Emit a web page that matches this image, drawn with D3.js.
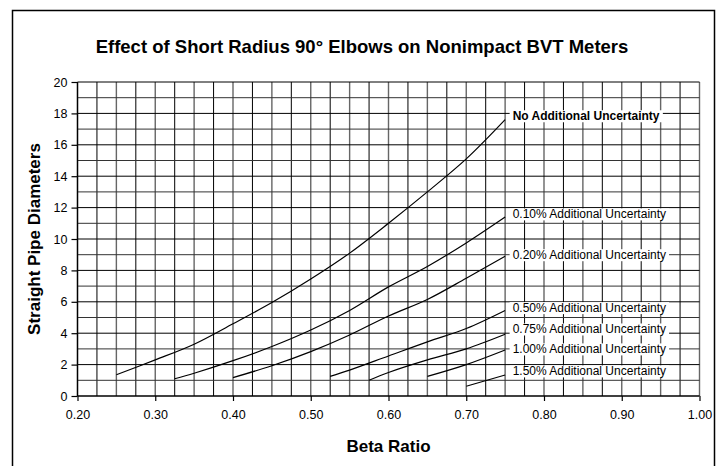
<!DOCTYPE html>
<html>
<head>
<meta charset="utf-8">
<script src="https://cdn.jsdelivr.net/npm/d3@7"></script>
<style>
  html, body { margin: 0; padding: 0; background: #fff; }
  svg { display: block; font-family: "Liberation Sans", Arial, sans-serif; }
</style>
</head>
<body>
<svg id="chart" width="723" height="466"></svg>
<script>
// ---- Data ----
const seriesNames = [
  "No Additional Uncertainty",
  "0.10% Additional Uncertainty",
  "0.20% Additional Uncertainty",
  "0.50% Additional Uncertainty",
  "0.75% Additional Uncertainty",
  "1.00% Additional Uncertainty",
  "1.50% Additional Uncertainty"
];
const noAdditional = [[0.25,1.35],[0.30,2.3],[0.35,3.3],[0.40,4.6],[0.45,5.95],[0.50,7.45],[0.55,9.1],[0.60,11.0],[0.65,13.0],[0.70,15.1],[0.75,17.6]];
const add010 = [[0.325,1.1],[0.35,1.45],[0.40,2.25],[0.45,3.15],[0.50,4.2],[0.55,5.45],[0.60,6.95],[0.65,8.25],[0.70,9.75],[0.75,11.4]];
const add020 = [[0.40,1.17],[0.45,1.93],[0.50,2.83],[0.55,3.89],[0.60,5.1],[0.65,6.15],[0.70,7.5],[0.75,8.9]];
const add050 = [[0.525,1.25],[0.55,1.65],[0.60,2.55],[0.65,3.45],[0.70,4.3],[0.75,5.45]];
const add075 = [[0.575,1.0],[0.60,1.5],[0.65,2.3],[0.70,3.0],[0.75,3.93]];
const add100 = [[0.65,1.25],[0.70,2.0],[0.75,2.93]];
const add150 = [[0.70,0.62],[0.75,1.34]];
const seriesValues = [noAdditional, add010, add020, add050, add075, add100, add150];
const xTickLabels = ["0.20","0.30","0.40","0.50","0.60","0.70","0.80","0.90","1.00"];
const yTickLabels = ["0","2","4","6","8","10","12","14","16","18","20"];
// label anchor heights (data units) for the curve labels
const labelAnchorY = [17.85, 11.6, 9.0, 5.63, 4.27, 3.0, 1.6];

// ---- Layout ----
const svg = d3.select("#chart");
const margin = { left: 77.5, right: 699.5, top: 82, bottom: 396 };
const x = d3.scaleLinear().domain([0.2, 1.0]).range([margin.left, margin.right]);
const y = d3.scaleLinear().domain([0, 20]).range([margin.bottom, margin.top]);

// outer border
svg.append("rect").attr("x", 12.5).attr("y", 10.5).attr("width", 702).attr("height", 470)
  .attr("fill", "none").attr("stroke", "#000").attr("stroke-width", 1.5);

// title
svg.append("text").attr("x", 362).attr("y", 53).attr("text-anchor", "middle")
  .attr("font-size", 18.5).attr("font-weight", "bold").text("Effect of Short Radius 90\u00B0 Elbows on Nonimpact BVT Meters");

// grid
const g = svg.append("g");
const vGrid = d3.range(0, 33).map(i => 0.2 + i * 0.025);
g.selectAll("line.v").data(vGrid).join("line").attr("class", "v")
  .attr("x1", d => x(d)).attr("x2", d => x(d)).attr("y1", y(0)).attr("y2", y(20))
  .attr("stroke", (d, i) => i % 2 ? "#000" : "#666").attr("stroke-width", (d, i) => i % 2 ? 1 : 1.4);
const hGrid = d3.range(1, 21);
g.selectAll("line.h").data(hGrid).join("line").attr("class", "h")
  .attr("y1", d => y(d)).attr("y2", d => y(d)).attr("x1", x(0.2)).attr("x2", x(1.0))
  .attr("stroke", (d, i) => i % 2 ? "#000" : "#333").attr("stroke-width", 1);

// axes
const xAxis = d3.axisBottom(x).tickValues(xTickLabels.map(Number)).tickFormat(d3.format(".2f")).tickSize(5).tickPadding(9);
const yAxis = d3.axisLeft(y).tickValues(yTickLabels.map(Number)).tickSize(6).tickPadding(4);
const gx = svg.append("g").attr("transform", `translate(0,${y(0)})`).call(xAxis);
const gy = svg.append("g").attr("transform", `translate(${x(0.2)},0)`).call(yAxis);
[gx, gy].forEach(a => {
  a.selectAll("path").attr("stroke", "#000").attr("stroke-width", 1.3);
  a.selectAll("line").attr("stroke", "#000").attr("stroke-width", 1.2);
  a.selectAll("text").attr("font-size", 12.5).attr("fill", "#000").attr("font-family", "Liberation Sans, Arial, sans-serif");
});
gx.select(".domain").attr("d", `M${x(0.2)},0H${x(1.0)}`);
gy.select(".domain").attr("d", `M0,${y(0)}V${y(20)}`);

// lines
const line = d3.line().x(d => x(d[0])).y(d => y(d[1])).curve(d3.curveCatmullRom);
svg.append("g").selectAll("path").data(seriesValues).join("path")
  .attr("d", line).attr("fill", "none").attr("stroke", "#000").attr("stroke-width", 1.2);

// labels
const lbl = svg.append("g");
seriesNames.forEach((name, i) => {
  const t = lbl.append("text").attr("x", x(0.75) + 7.5).attr("y", y(labelAnchorY[i]) + 4.5)
    .attr("font-size", 12).attr("font-weight", i === 0 ? "bold" : "normal").text(name);
  const bb = t.node().getBBox();
  lbl.insert("rect", "text").attr("x", bb.x - 3).attr("y", bb.y + 1).attr("width", bb.width + 6).attr("height", bb.height - 2)
    .attr("fill", "#fff");
});

// axis titles
svg.append("text").attr("x", (x(0.2) + x(1.0)) / 2).attr("y", 452).attr("text-anchor", "middle")
  .attr("font-size", 17).attr("font-weight", "bold").text("Beta Ratio");
svg.append("text").attr("transform", `translate(40,${(y(0) + y(20)) / 2}) rotate(-90)`).attr("text-anchor", "middle")
  .attr("font-size", 17).attr("font-weight", "bold").text("Straight Pipe Diameters");
</script>
</body>
</html>
